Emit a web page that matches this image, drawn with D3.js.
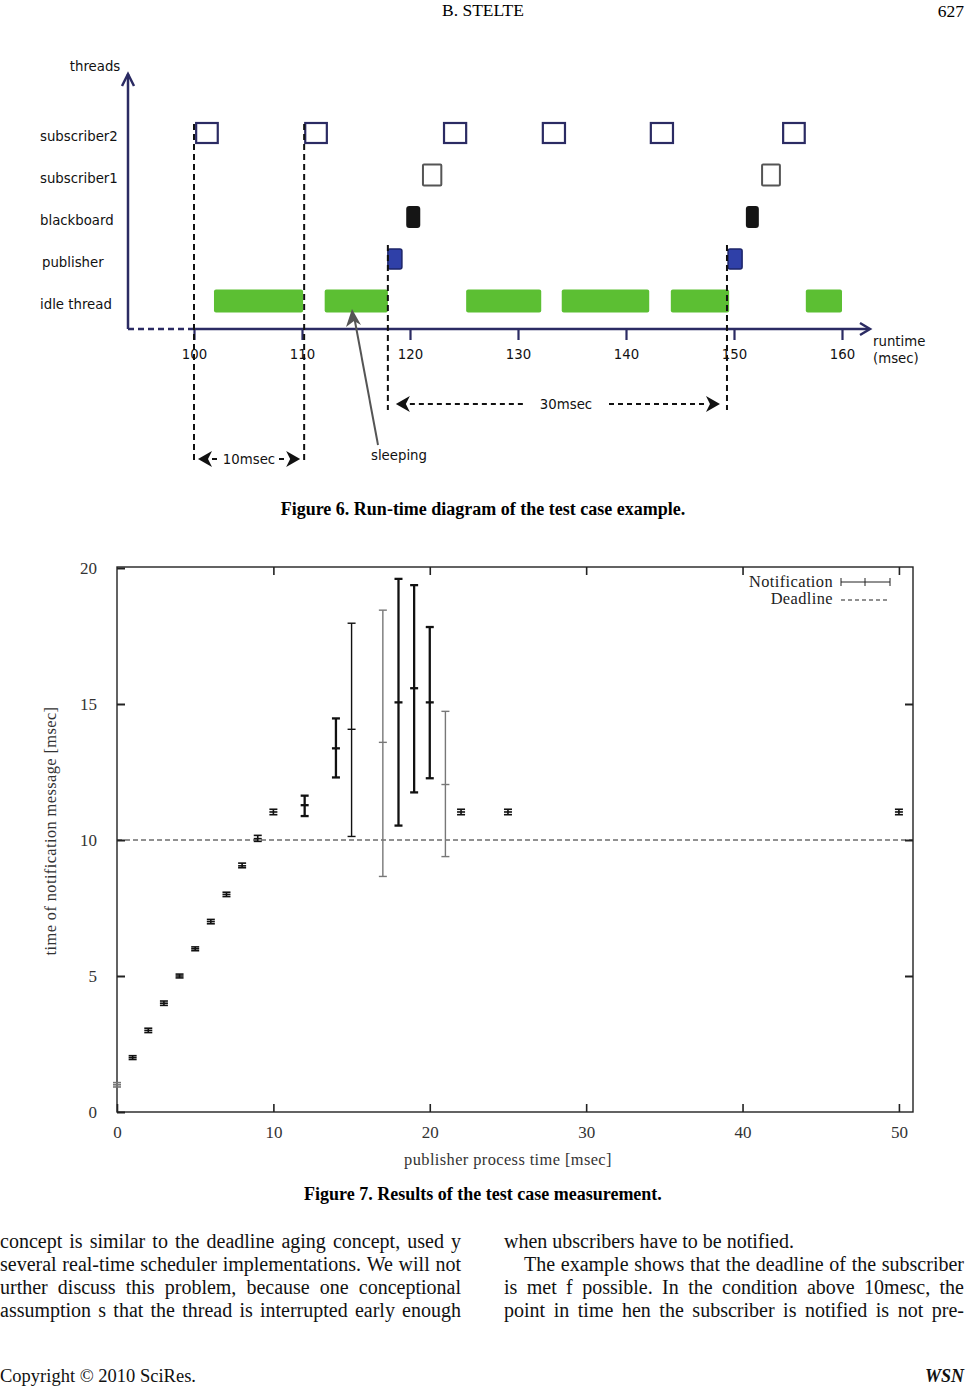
<!DOCTYPE html>
<html><head><meta charset="utf-8">
<script src="https://cdn.jsdelivr.net/npm/d3@7"></script>
<style>body{margin:0;background:#fff}svg{display:block}</style>
</head><body>
<script>
// ---------- Figure 6 data ----------
const threads = ["subscriber2", "subscriber1", "blackboard", "publisher", "idle thread"];
const runtimeTicks = [100, 110, 120, 130, 140, 150, 160];
const sub2Runs = [[100.2, 102.2], [110.3, 112.3], [123.15, 125.2], [132.3, 134.35], [142.3, 144.35], [154.55, 156.55]];
const sub1Runs = [[121.2, 122.9], [152.6, 154.25]];
const blackboardRuns = [[119.65, 120.95], [151.1, 152.3]];
const publisherRuns = [[117.95, 119.25], [149.45, 150.75]];
const idleRuns = [[101.85, 110.1], [112.1, 117.95], [125.2, 132.15], [134.05, 142.15], [144.15, 149.55], [156.65, 160.0]];
const periodLines = [100, 110.2];
const cycleLines = [117.95, 149.35];

// ---------- Figure 7 data ----------
const procTime = [0, 1, 2, 3, 4, 5, 6, 7, 8, 9, 10, 12, 14, 15, 17, 18, 19, 20, 21, 22, 25, 50];
const notifMean = [1.0, 2.0, 3.0, 4.0, 5.0, 6.0, 7.0, 8.0, 9.05, 10.05, 11.03, 11.28, 13.37, 14.07, 13.59, 15.06, 15.58, 15.06, 12.04, 11.03, 11.03, 11.03];
const notifLow = [0.92, 1.93, 2.92, 3.92, 4.93, 5.93, 6.92, 7.92, 8.98, 9.95, 10.93, 10.88, 12.30, 10.13, 8.66, 10.53, 11.75, 12.27, 9.39, 10.93, 10.93, 10.93];
const notifHigh = [1.08, 2.07, 3.08, 4.08, 5.07, 6.07, 7.08, 8.08, 9.15, 10.17, 11.13, 11.63, 14.47, 17.97, 18.45, 19.6, 19.37, 17.83, 14.73, 11.13, 11.13, 11.13];
const deadline = 10;
const xTicks7 = [0, 10, 20, 30, 40, 50];
const yTicks7 = [0, 5, 10, 15, 20];

// ---------- text ----------
const leftLines = [
  "concept is similar to the deadline aging concept, used y",
  "several real-time scheduler implementations. We will not",
  "urther discuss this problem, because one conceptional",
  "assumption s that the thread is interrupted early enough"];
const rightLines = [
  "when ubscribers have to be notified.",
  "The example shows that the deadline of the subscriber",
  "is met f possible. In the condition above 10mesc, the",
  "point in time hen the subscriber is notified is not pre-"];

const W = 966, H = 1386;
const svg = d3.select("body").append("svg").attr("width", W).attr("height", H);
svg.append("rect").attr("width", W).attr("height", H).attr("fill", "#fff");

const serif = "'Liberation Serif','Times New Roman',serif";
const sans = "'DejaVu Sans',Verdana,sans-serif";

// header
svg.append("text").attr("x", 483).attr("y", 16).attr("text-anchor", "middle")
  .attr("font-family", serif).attr("font-size", 17.5).text("B. STELTE");
svg.append("text").attr("x", 964).attr("y", 17).attr("text-anchor", "end")
  .attr("font-family", serif).attr("font-size", 17.5).text("627");

// ================= Figure 6 =================
const navy = "#2b2b63";
const f6 = svg.append("g");
const xr = d3.scaleLinear().domain([100, 160]).range([194, 842]);
const yr = d3.scaleBand().domain(threads).range([112, 322]);
const yc = d => yr(d) + yr.bandwidth() / 2;
const fs6 = 13.3;

f6.append("text").attr("x", 95).attr("y", 71).attr("text-anchor", "middle")
  .attr("font-family", sans).attr("font-size", fs6).attr("fill", "#111").text("threads");
f6.selectAll("text.th").data(threads).join("text").attr("class", "th")
  .attr("x", d => d === "publisher" ? 42 : 40).attr("y", d => yc(d) + 8)
  .attr("font-family", sans).attr("font-size", fs6).attr("fill", "#111").text(d => d);

f6.append("line").attr("x1", 128).attr("y1", 329).attr("x2", 128).attr("y2", 74)
  .attr("stroke", navy).attr("stroke-width", 2.5);
f6.append("path").attr("d", "M122,86 L128,74 L134,86").attr("fill", "none").attr("stroke", navy).attr("stroke-width", 2.5);
f6.append("line").attr("x1", 128).attr("y1", 329).attr("x2", xr(100)).attr("y2", 329)
  .attr("stroke", navy).attr("stroke-width", 2.5).attr("stroke-dasharray", "6,4");
f6.append("line").attr("x1", xr(100)).attr("y1", 329).attr("x2", 869).attr("y2", 329)
  .attr("stroke", navy).attr("stroke-width", 2.5);
f6.append("path").attr("d", "M860,323 L870,329 L860,335").attr("fill", "none").attr("stroke", navy).attr("stroke-width", 2.5);
const ax6 = d3.axisBottom(xr).tickValues(runtimeTicks).tickSize(11).tickPadding(10).tickFormat(d3.format("d"));
const ax6g = f6.append("g").attr("transform", "translate(0,329)").call(ax6);
ax6g.select(".domain").remove();
ax6g.selectAll(".tick line").attr("stroke", navy).attr("stroke-width", 2.2);
ax6g.selectAll(".tick text").attr("font-family", sans).attr("font-size", fs6).attr("fill", "#111");
f6.append("text").attr("x", 873).attr("y", 346).attr("font-family", sans).attr("font-size", fs6).attr("fill", "#111").text("runtime");
f6.append("text").attr("x", 873).attr("y", 363).attr("font-family", sans).attr("font-size", fs6).attr("fill", "#111").text("(msec)");

function runs(data, row, h, fill, stroke, sw, rx) {
  f6.append("g").selectAll("rect").data(data).join("rect")
    .attr("x", d => xr(d[0])).attr("width", d => xr(d[1]) - xr(d[0]))
    .attr("y", yc(row) - h / 2).attr("height", h)
    .attr("fill", fill).attr("stroke", stroke).attr("stroke-width", sw).attr("rx", rx);
}
runs(idleRuns, "idle thread", 23, "#5cbf33", "none", 0, 2);
runs(publisherRuns, "publisher", 20, "#2f40a8", "#1c2468", 1.5, 2);
runs(blackboardRuns, "blackboard", 22, "#151515", "none", 0, 3);
runs(sub1Runs, "subscriber1", 21, "none", "#555", 2, 1);
runs(sub2Runs, "subscriber2", 20, "none", "#2b2b63", 2.2, 0);

f6.selectAll("line.per").data(periodLines).join("line").attr("class", "per")
  .attr("x1", d => xr(d)).attr("x2", d => xr(d)).attr("y1", 124).attr("y2", 462)
  .attr("stroke", "#111").attr("stroke-width", 2).attr("stroke-dasharray", "6,4");
f6.selectAll("line.cyc").data(cycleLines).join("line").attr("class", "cyc")
  .attr("x1", d => xr(d)).attr("x2", d => xr(d)).attr("y1", 245).attr("y2", 410)
  .attr("stroke", "#111").attr("stroke-width", 2).attr("stroke-dasharray", "6,4");

function spanArrow(x1, x2, y, label, tx, gap) {
  const g = f6.append("g");
  g.append("path").attr("d", `M${x1},${y} L${x1 + 14},${y - 8} L${x1 + 10},${y} L${x1 + 14},${y + 8} Z`).attr("fill", "#111");
  g.append("path").attr("d", `M${x2},${y} L${x2 - 14},${y - 8} L${x2 - 10},${y} L${x2 - 14},${y + 8} Z`).attr("fill", "#111");
  g.append("line").attr("x1", x1 + 14).attr("x2", tx - gap).attr("y1", y).attr("y2", y).attr("stroke", "#111").attr("stroke-width", 2).attr("stroke-dasharray", "5,4");
  g.append("line").attr("x1", tx + gap).attr("x2", x2 - 14).attr("y1", y).attr("y2", y).attr("stroke", "#111").attr("stroke-width", 2).attr("stroke-dasharray", "5,4");
  g.append("text").attr("x", tx).attr("y", y + 5).attr("text-anchor", "middle").attr("font-family", sans)
    .attr("font-size", fs6).attr("fill", "#111").text(label);
}
spanArrow(xr(periodLines[0]) + 4, xr(periodLines[1]) - 4, 459, "10msec", 249, 30);
spanArrow(xr(cycleLines[0]) + 8, xr(cycleLines[1]) - 7, 404, "30msec", 566, 43);

f6.append("line").attr("x1", 378).attr("y1", 445).attr("x2", 354).attr("y2", 316).attr("stroke", "#555").attr("stroke-width", 2);
f6.append("path").attr("d", "M352,309 L346,327 L354,321 L361,325 Z").attr("fill", "#555");
f6.append("text").attr("x", 371).attr("y", 460).attr("font-family", sans).attr("font-size", fs6).attr("fill", "#111").text("sleeping");

svg.append("text").attr("x", 483).attr("y", 515).attr("text-anchor", "middle")
  .attr("font-family", serif).attr("font-size", 18).attr("font-weight", "bold").text("Figure 6. Run-time diagram of the test case example.");

// ================= Figure 7 =================
const L = 117, R = 913, T = 567, B = 1112;
const x = d3.scaleLinear().domain([0, 50.9]).range([L, R]);
const y = d3.scaleLinear().domain([0, 20]).range([B, T + 1]);
const f7 = svg.append("g");
const fs7 = 16.4;

f7.append("rect").attr("x", L).attr("y", T).attr("width", R - L).attr("height", B - T)
  .attr("fill", "none").attr("stroke", "#222").attr("stroke-width", 1.4);

const ax = d3.axisBottom(x).tickValues(xTicks7).tickSize(-8).tickPadding(14);
const axg = f7.append("g").attr("transform", `translate(0,${B})`).call(ax);
axg.select(".domain").remove();
axg.selectAll(".tick line").attr("stroke", "#222").attr("stroke-width", 1.6);
axg.selectAll(".tick text").attr("font-family", serif).attr("font-size", 17).attr("fill", "#333");
const axt = d3.axisTop(x).tickValues(xTicks7.slice(1)).tickSize(-8).tickFormat("");
const axtg = f7.append("g").attr("transform", `translate(0,${T})`).call(axt);
axtg.select(".domain").remove();
axtg.selectAll(".tick line").attr("stroke", "#222").attr("stroke-width", 1.6);

const ay = d3.axisLeft(y).tickValues(yTicks7).tickSize(-8).tickPadding(20);
const ayg = f7.append("g").attr("transform", `translate(${L},0)`).call(ay);
ayg.select(".domain").remove();
ayg.selectAll(".tick line").attr("stroke", "#222").attr("stroke-width", 2);
ayg.selectAll(".tick text").attr("font-family", serif).attr("font-size", 17).attr("fill", "#333");
const ayr = d3.axisRight(y).tickValues(yTicks7.slice(1, 4)).tickSize(-8).tickFormat("");
const ayrg = f7.append("g").attr("transform", `translate(${R},0)`).call(ayr);
ayrg.select(".domain").remove();
ayrg.selectAll(".tick line").attr("stroke", "#222").attr("stroke-width", 2);

f7.append("text").attr("x", 508).attr("y", 1165).attr("text-anchor", "middle")
  .attr("font-family", serif).attr("font-size", fs7).attr("letter-spacing", 0.4).attr("fill", "#333").text("publisher process time [msec]");
f7.append("text").attr("transform", "translate(56,831) rotate(-90)").attr("text-anchor", "middle")
  .attr("font-family", serif).attr("font-size", fs7).attr("letter-spacing", 0.4).attr("fill", "#333").text("time of notification message [msec]");

f7.append("line").attr("x1", L).attr("x2", R).attr("y1", y(deadline)).attr("y2", y(deadline))
  .attr("stroke", "#222").attr("stroke-width", 1).attr("stroke-dasharray", "5,3");

const pts = procTime.map((t, i) => ({ t, m: notifMean[i], lo: notifLow[i], hi: notifHigh[i] }));
const greyT = new Set([0, 17, 21]);
const thickT = new Set([12, 14, 18, 19, 20]);
const eb = f7.append("g").selectAll("g").data(pts).join("g")
  .attr("stroke", d => greyT.has(d.t) ? "#777" : "#111")
  .attr("stroke-width", d => thickT.has(d.t) ? 2.3 : (d.hi - d.lo > 1 ? 1.4 : 1.6));
eb.append("line").attr("x1", d => x(d.t)).attr("x2", d => x(d.t)).attr("y1", d => y(d.lo)).attr("y2", d => y(d.hi));
["lo", "hi", "m"].forEach(k => {
  eb.append("line").attr("x1", d => x(d.t) - 4).attr("x2", d => x(d.t) + 4)
    .attr("y1", d => y(d[k])).attr("y2", d => y(d[k]));
});

const lg = f7.append("g");
lg.append("text").attr("x", 833).attr("y", 587).attr("text-anchor", "end").attr("font-family", serif)
  .attr("font-size", fs7).attr("letter-spacing", 0.4).attr("fill", "#222").text("Notification");
lg.append("text").attr("x", 833).attr("y", 604).attr("text-anchor", "end").attr("font-family", serif)
  .attr("font-size", fs7).attr("letter-spacing", 0.4).attr("fill", "#222").text("Deadline");
lg.append("line").attr("x1", 841).attr("x2", 890).attr("y1", 582).attr("y2", 582).attr("stroke", "#222").attr("stroke-width", 1);
[841, 865, 890].forEach(px => lg.append("line").attr("x1", px).attr("x2", px).attr("y1", 578).attr("y2", 586).attr("stroke", "#222").attr("stroke-width", 1));
lg.append("line").attr("x1", 841).attr("x2", 890).attr("y1", 600).attr("y2", 600).attr("stroke", "#222").attr("stroke-width", 1.2).attr("stroke-dasharray", "4,3");

svg.append("text").attr("x", 483).attr("y", 1200).attr("text-anchor", "middle")
  .attr("font-family", serif).attr("font-size", 18).attr("font-weight", "bold").text("Figure 7. Results of the test case measurement.");

// ================= body text =================
function line(x0, width, yy, str, justify) {
  const words = str.split(" ");
  const g = svg.append("g");
  const els = words.map(w => g.append("text").attr("y", yy).attr("font-family", serif).attr("font-size", 20).attr("fill", "#111").text(w));
  const ws = els.map(e => e.node().getComputedTextLength());
  const tot = d3.sum(ws);
  const gap = justify && words.length > 1 ? (width - tot) / (words.length - 1) : 5;
  let cx = x0;
  els.forEach((e, i) => { e.attr("x", cx); cx += ws[i] + gap; });
}
const ys = [1248, 1271, 1294, 1317];
leftLines.forEach((s, i) => line(0, 461, ys[i], s, true));
rightLines.forEach((s, i) => {
  if (i === 0) line(504, 460, ys[i], s, false);
  else if (i === 1) line(524, 440, ys[i], s, true);
  else line(504, 460, ys[i], s, true);
});

svg.append("text").attr("x", 0).attr("y", 1382).attr("font-family", serif).attr("font-size", 18.5).attr("fill", "#111").text("Copyright © 2010 SciRes.");
svg.append("text").attr("x", 964).attr("y", 1382).attr("text-anchor", "end").attr("font-family", serif).attr("font-size", 18)
  .attr("font-weight", "bold").attr("font-style", "italic").attr("fill", "#111").text("WSN");
</script>
</body></html>
